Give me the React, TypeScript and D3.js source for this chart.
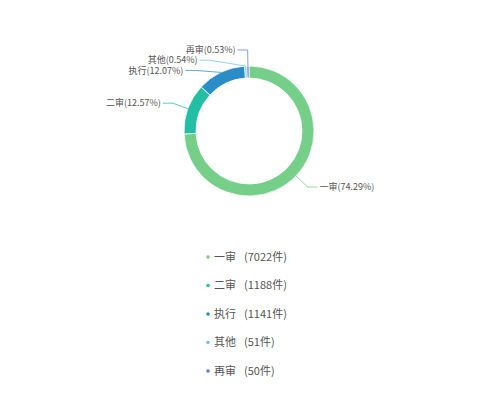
import React from "react";
import * as d3 from "d3";

const categories = ["一审", "二审", "执行", "其他", "再审"];
const counts = [7022, 1188, 1141, 51, 50];
const percentLabels = ["74.29%", "12.57%", "12.07%", "0.54%", "0.53%"];
const colors = ["#75cf88", "#22bfa5", "#2a8dc8", "#6cc6e8", "#5b81d6"];

const W = 499;
const H = 403;
const cx = 249;
const cy = 131;
const outerR = 65;
const innerR = 53;
const len1 = 16;
const len2 = 10;
const labelGap = 10.2;
const font = "'Noto Sans CJK SC', 'Noto Sans', sans-serif";

export default function App() {
  const pie = d3.pie<number>().sort(null).value((d) => d);
  const arcs = pie(counts);
  const arcGen = d3.arc<d3.PieArcDatum<number>>().innerRadius(innerR).outerRadius(outerR);
  const R2 = outerR + len1;

  type Lab = { i: number; mid: number; y: number; side: number };
  const labs: Lab[] = arcs.map((a, i) => {
    const mid = (a.startAngle + a.endAngle) / 2;
    const side = Math.sin(mid) >= 0 ? 1 : -1;
    return { i, mid, y: cy - Math.cos(mid) * R2, side };
  });
  [1, -1].forEach((s) => {
    const group = labs.filter((l) => l.side === s).sort((a, b) => a.y - b.y);
    for (let k = 1; k < group.length; k++) {
      if (group[k].y - group[k - 1].y < labelGap) group[k].y = group[k - 1].y + labelGap;
    }
  });

  const legendY = d3.scalePoint<string>().domain(categories).range([257, 371]);

  return (
    <svg
      width={W}
      height={H}
      style={{ position: "absolute", left: 0, top: 0, background: "#fff" }}
      fontFamily={font}
    >
      <g transform={`translate(${cx},${cy})`}>
        {arcs.map((a, i) => (
          <path key={i} d={arcGen(a) || ""} fill={colors[i]} stroke="#fff" strokeWidth={0.8} />
        ))}
      </g>
      {labs.map((l) => {
        const p1x = cx + Math.sin(l.mid) * outerR;
        const p1y = cy - Math.cos(l.mid) * outerR;
        const dy = l.y - cy;
        const dx = Math.sqrt(Math.max(0, R2 * R2 - dy * dy));
        const p2x = cx + l.side * dx;
        const p3x = p2x + l.side * len2;
        return (
          <g key={l.i}>
            <polyline
              points={`${p1x},${p1y} ${p2x},${l.y} ${p3x},${l.y}`}
              fill="none"
              stroke={colors[l.i]}
              strokeWidth={1}
              opacity={0.75}
            />
            <text
              x={p3x + l.side * 2}
              y={l.y}
              dy="0.35em"
              fontSize={9}
              fill="#555"
              textAnchor={l.side > 0 ? "start" : "end"}
            >
              {`${categories[l.i]}(${percentLabels[l.i]})`}
            </text>
          </g>
        );
      })}
      {categories.map((c, i) => (
        <g key={c} transform={`translate(208,${legendY(c)})`}>
          <circle r={1.8} fill={colors[i]} />
          <text x={6} dy="0.35em" fontSize={11} fill="#555">
            {c}
            <tspan dx={8}>{`(${counts[i]}件)`}</tspan>
          </text>
        </g>
      ))}
    </svg>
  );
}
